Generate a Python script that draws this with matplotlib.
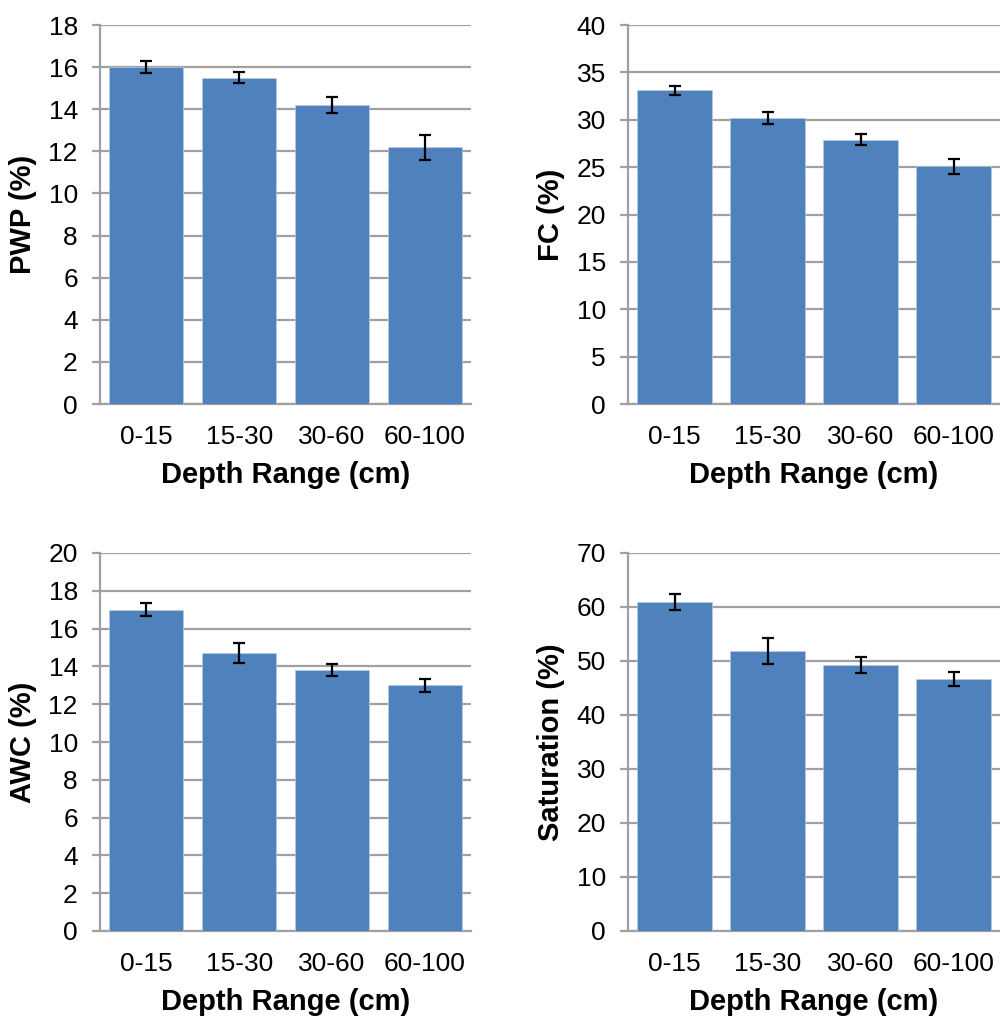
import matplotlib.pyplot as plt
import numpy as np

plt.rcParams['font.family'] = ['Liberation Sans', 'DejaVu Sans']

depths = ['0-15', '15-30', '30-60', '60-100']

pwp = [16.0, 15.5, 14.2, 12.2]
pwp_err = [0.29, 0.26, 0.39, 0.59]

fc = [33.1, 30.2, 27.9, 25.1]
fc_err = [0.5, 0.6, 0.6, 0.8]

awc = [17.0, 14.7, 13.8, 13.0]
awc_err = [0.35, 0.52, 0.33, 0.33]

sat = [60.9, 51.9, 49.3, 46.6]
sat_err = [1.5, 2.4, 1.5, 1.3]

panels = [
    (pwp, pwp_err, 'PWP (%)', 18, 2),
    (fc, fc_err, 'FC (%)', 40, 5),
    (awc, awc_err, 'AWC (%)', 20, 2),
    (sat, sat_err, 'Saturation (%)', 70, 10),
]

W, H = 1000, 1019
fig = plt.figure(figsize=(W / 100, H / 100), dpi=100)

# axes boxes in pixels: left, top, right, bottom
boxes = [
    (100, 25, 471, 404),
    (628, 25, 1000, 404),
    (100, 553, 471, 931),
    (628, 553, 1000, 931),
]

grid_c = '#a0a0a0'
x = np.arange(len(depths))

for (vals, errs, ylabel, ymax, step), (l, t, r, b) in zip(panels, boxes):
    ax = fig.add_axes([l / W, 1 - b / H, (r - l) / W, (b - t) / H])
    ax.bar(x, vals, width=0.8, color='#4f81bd', zorder=3,
           edgecolor='#b8cce4', linewidth=0.5)
    ax.errorbar(x, vals, yerr=errs, fmt='none', ecolor='black',
                elinewidth=1.6, capsize=4, capthick=1.6, zorder=4)
    ax.set_xlim(-0.5, len(depths) - 0.5)
    ax.set_ylim(0, ymax)
    ax.set_yticks(np.arange(0, ymax + step / 2, step))
    ax.set_xticks(x)
    ax.set_xticklabels(depths)
    ax.yaxis.grid(True, color=grid_c, linewidth=1.6, zorder=0)
    ax.set_axisbelow(True)
    for s in ['top', 'right']:
        ax.spines[s].set_visible(False)
    for s in ['left', 'bottom']:
        ax.spines[s].set_color(grid_c)
        ax.spines[s].set_linewidth(1.6)
    ax.tick_params(axis='y', length=6, width=1.6, color=grid_c,
                   labelsize=19, pad=10)
    ax.tick_params(axis='x', length=0, labelsize=19, pad=15)
    ax.set_xlabel('Depth Range (cm)', fontsize=21, fontweight='bold',
                  labelpad=9)
    ax.set_ylabel(ylabel, fontsize=21, fontweight='bold', labelpad=8)

fig.savefig('out.png', dpi=100)
